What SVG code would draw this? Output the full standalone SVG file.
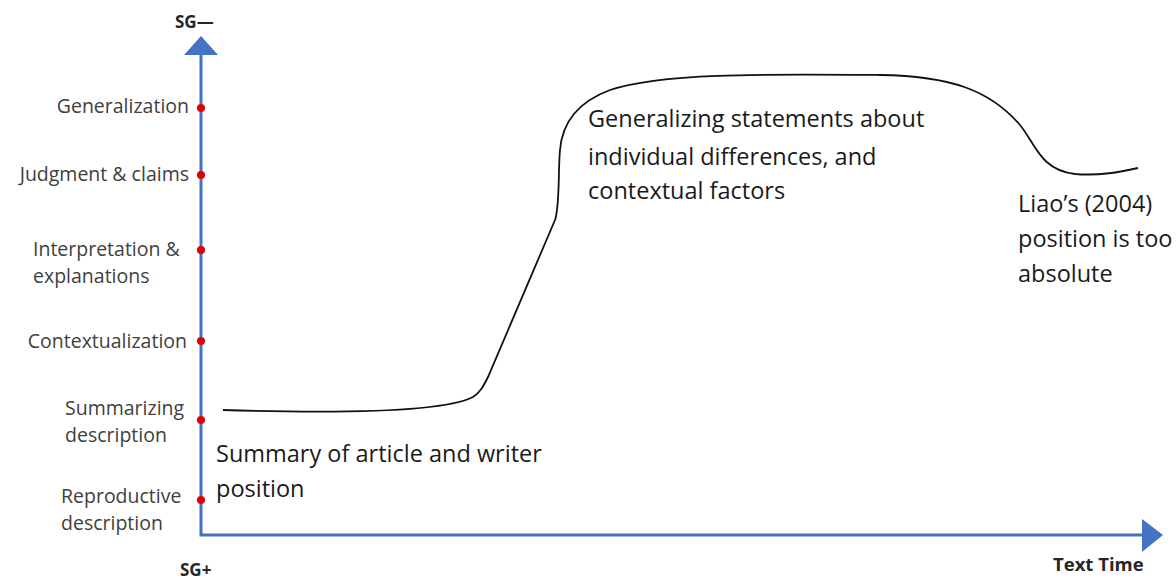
<svg xmlns="http://www.w3.org/2000/svg" width="1176" height="582" viewBox="0 0 1176 582">
  <style>
    .axis { stroke: #4472C4; stroke-width: 3; fill: none; }
    .head { fill: #4472C4; }
    .dot { fill: #E00000; }
    .lvl { font-family: "Open Sans", "Liberation Sans", sans-serif; font-size: 19.5px; fill: #404040; }
    .end { font-family: "Open Sans", "Liberation Sans", sans-serif; font-size: 17px; font-weight: bold; fill: #262626; }
    .note { font-family: "Open Sans", "Liberation Sans", sans-serif; font-size: 23.5px; fill: #1a1a1a; }
    .curve { stroke: #111; stroke-width: 1.8; fill: none; }
  </style>

  <!-- axes -->
  <g id="axes">
    <polyline class="axis" points="201,52 201,535 1145,535"/>
    <polygon class="head" points="201,36 184,55 218,55"/>
    <polygon class="head" points="1163,535 1142,519 1142,552"/>
    <text class="end" x="175" y="28">SG—</text>
    <text class="end" x="180" y="576">SG+</text>
    <text class="end" x="1053" y="571" style="font-size:18.5px">Text Time</text>
  </g>

  <!-- level markers on the vertical axis -->
  <g id="level-generalization">
    <circle class="dot" cx="201" cy="108" r="4"/>
    <text class="lvl" x="189" y="113" text-anchor="end">Generalization</text>
  </g>
  <g id="level-judgment">
    <circle class="dot" cx="201" cy="175" r="4"/>
    <text class="lvl" x="189" y="181" text-anchor="end">Judgment &amp; claims</text>
  </g>
  <g id="level-interpretation">
    <circle class="dot" cx="201" cy="250" r="4"/>
    <text class="lvl" x="33" y="256">Interpretation &amp;</text>
    <text class="lvl" x="33" y="283">explanations</text>
  </g>
  <g id="level-contextualization">
    <circle class="dot" cx="201" cy="341" r="4"/>
    <text class="lvl" x="187" y="348" text-anchor="end">Contextualization</text>
  </g>
  <g id="level-summarizing">
    <circle class="dot" cx="201" cy="420" r="4"/>
    <text class="lvl" x="65" y="415">Summarizing</text>
    <text class="lvl" x="65" y="442">description</text>
  </g>
  <g id="level-reproductive">
    <circle class="dot" cx="201" cy="500" r="4"/>
    <text class="lvl" x="61" y="503">Reproductive</text>
    <text class="lvl" x="61" y="530">description</text>
  </g>

  <!-- text-time trajectory -->
  <g id="connectors">
    <path class="curve" d="M223,410 C320,413 440,414 473,397 C480,393 484,385 488,377 L555,220 C560,205 558,170 560,150 C562,125 575,103 610,90 C660,73 760,74 880,75 C950,76 990,90 1020,125 C1035,143 1040,170 1075,174 C1100,176 1120,172 1138,168"/>
  </g>

  <!-- annotations -->
  <g id="note-summary">
    <text class="note" x="216" y="462">Summary of article and writer</text>
    <text class="note" x="216" y="497">position</text>
  </g>
  <g id="note-generalizing">
    <text class="note" x="588" y="127">Generalizing statements about</text>
    <text class="note" x="588" y="165">individual differences, and</text>
    <text class="note" x="588" y="199">contextual factors</text>
  </g>
  <g id="note-liao">
    <text class="note" x="1018" y="212">Liao’s (2004)</text>
    <text class="note" x="1018" y="247">position is too</text>
    <text class="note" x="1018" y="282">absolute</text>
  </g>
</svg>
